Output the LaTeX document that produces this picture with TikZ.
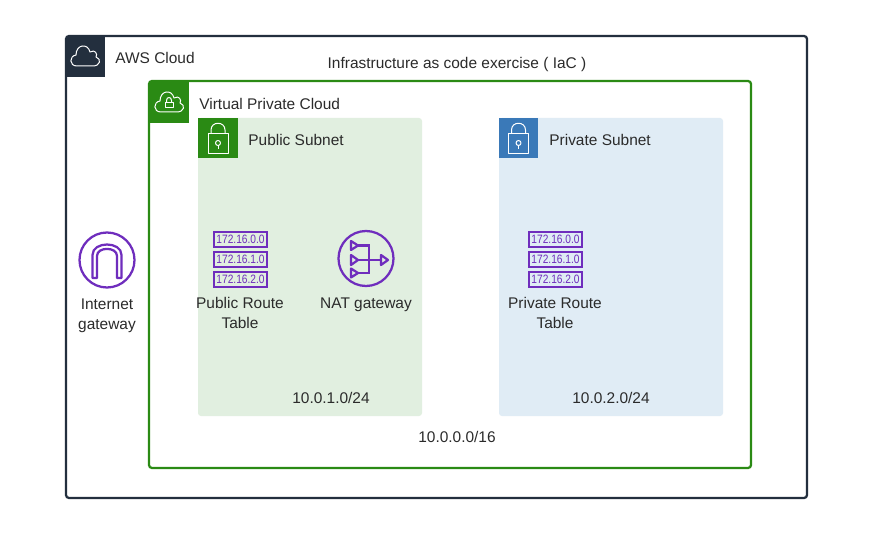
\documentclass[tikz,border=0pt]{standalone}
\usepackage{fontspec}
\setmainfont{Liberation Sans}
\newfontfamily\routefont[FakeStretch=0.84]{Liberation Sans}
\definecolor{awsdark}{HTML}{232F3E}
\definecolor{vpcgreen}{HTML}{2A8A14}
\definecolor{publicfill}{HTML}{E1EFE0}
\definecolor{privatefill}{HTML}{E0ECF5}
\definecolor{privateblue}{HTML}{3A79B8}
\definecolor{routeviolet}{HTML}{6F2DBD}
\definecolor{labelgrey}{HTML}{2B2B2B}
\tikzset{
	label text/.style={text=labelgrey, font=\fontsize{8.8pt}{11.4pt}\selectfont, inner sep=0pt, align=center},
	route row/.style={draw=routeviolet, line width=0.045cm, minimum width=1.05cm, minimum height=0.31cm, inner sep=0pt, text=routeviolet, font=\routefont\fontsize{6.9pt}{7pt}\selectfont},
	violet icon/.style={draw=routeviolet, line width=0.045cm},
	white icon/.style={draw=white, line width=0.02cm, line join=round}
}
\def\cloudicon(#1,#2){\draw[white icon, shift={(#1,#2)}] (-8,10) .. controls (-16,10) and (-16,0) .. (-9,-1) .. controls (-9,-12) and (3,-13) .. (5,-4) .. controls (10,-7) and (13,-2) .. (11,1) .. controls (17,3) and (15,10) .. (8,10) -- cycle;}
\def\lockicon(#1,#2){
	\draw[white icon, shift={(#1,#2)}] (-10,-4) rectangle (10,16);
	\draw[white icon, shift={(#1,#2)}] (-7,-4) -- (-7,-8) .. controls (-7,-17) and (7,-17) .. (7,-8) -- (7,-4);
	\draw[white icon, shift={(#1,#2)}] (0,5) circle (2.5);
	\draw[white icon, shift={(#1,#2)}] (0,7.5) -- (0,11);
}
\def\routetable(#1,#2)#3{
	\node[route row] (#3a) at (#1,#2-20) {172.16.0.0};
	\node[route row] (#3b) at (#1,#2) {172.16.1.0};
	\node[route row] (#3c) at (#1,#2+20) {172.16.2.0};
}
\begin{document}
\begin{tikzpicture}[x=0.02cm,y=-0.02cm]
	\useasboundingbox (0,0) rectangle (886,544);
	\fill[white] (0,0) rectangle (886,544);

	% outer cloud
	\draw[draw=awsdark, line width=0.045cm, rounded corners=0.06cm] (66,36) rectangle (807,498);
	\fill[awsdark] (66,36) rectangle (105,77);
	\cloudicon(85,56)
	\node[label text, anchor=west] (awscloud) at (115,58) {AWS Cloud};
	\node[label text] (title) at (457,64) {Infrastructure as code exercise ( IaC )};

	% vpc
	\draw[draw=vpcgreen, line width=0.045cm, rounded corners=0.06cm] (149,81) rectangle (751,468);
	\fill[vpcgreen] (149,81) rectangle (189,123);
	\cloudicon(169,102)
	\draw[white icon] (165,102.5) rectangle (173,108);
	\draw[white icon] (166.5,102.5) -- (166.5,100.5) .. controls (166.5,96.5) and (171.5,96.5) .. (171.5,100.5) -- (171.5,102.5);
	\node[label text, anchor=west] (vpc) at (199,104) {Virtual Private Cloud};
	\node[label text] (vpccidr) at (457,437) {10.0.0.0/16};

	% public subnet
	\fill[publicfill, rounded corners=0.06cm] (198,118) rectangle (422,416);
	\fill[vpcgreen] (198,118) rectangle (238,158);
	\lockicon(218,138)
	\node[label text, anchor=west] (publicsubnet) at (248,140) {Public Subnet};
	\routetable(240.5,259.5){publicrow}
	\node[label text] (publicroute) at (240,313) {Public Route\\Table};
	\node[label text] (natlabel) at (366,305) {NAT gateway};
	\node[label text] (publiccidr) at (331,398) {10.0.1.0/24};

	% nat gateway icon
	\draw[violet icon] (366,258.5) circle (27.5);
	\draw[violet icon, line join=round] (351,241) -- (358,245.5) -- (351,250) -- cycle;
	\draw[violet icon, line join=round] (351,255) -- (358,260) -- (351,265) -- cycle;
	\draw[violet icon, line join=round] (351,268.5) -- (358,273) -- (351,277.5) -- cycle;
	\draw[violet icon] (358,245.5) -- (369,245.5) -- (369,273) -- (358,273);
	\draw[violet icon] (358,260) -- (381,260);
	\draw[violet icon, line join=round] (381,255) -- (388,260) -- (381,265) -- cycle;

	% private subnet
	\fill[privatefill, rounded corners=0.06cm] (499,118) rectangle (723,416);
	\fill[privateblue] (499,118) rectangle (538,158);
	\lockicon(518.5,138)
	\node[label text, anchor=west] (privatesubnet) at (549,140) {Private Subnet};
	\routetable(555.5,259.5){privaterow}
	\node[label text] (privateroute) at (555,312.5) {Private Route\\Table};
	\node[label text] (privatecidr) at (611,398) {10.0.2.0/24};

	% internet gateway
	\draw[violet icon] (107,260) circle (27.5);
	\draw[violet icon, line join=round] (92.5,278) -- (92.5,255) .. controls (92.5,241) and (121.5,241) .. (121.5,255) -- (121.5,278) -- (117,278) -- (117,256) .. controls (117,246.5) and (97,246.5) .. (97,256) -- (97,278) -- cycle;
	\node[label text] (igwlabel) at (107,316) {Internet\\gateway};
\end{tikzpicture}
\end{document}
